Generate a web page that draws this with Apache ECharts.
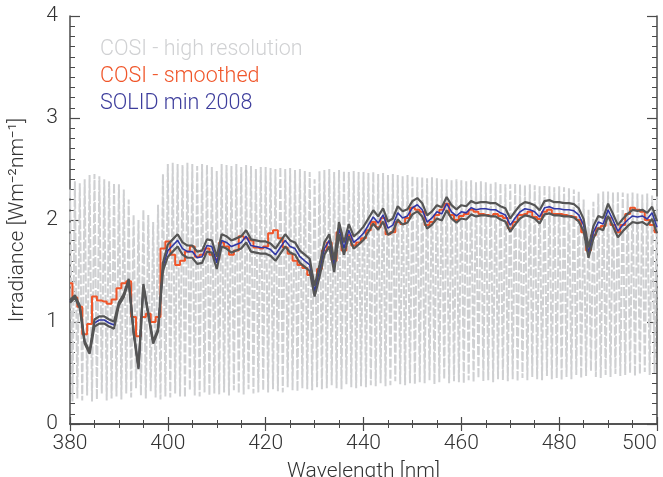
<!DOCTYPE html>
<html>
<head>
<meta charset="utf-8">
<script src="https://cdn.jsdelivr.net/npm/echarts@6/dist/echarts.min.js"></script>
<style>
  html, body { margin: 0; padding: 0; background: #fff; }
  #root { width: 663px; height: 477px; }
</style>
</head>
<body>
<div id="root"></div>
<script>
// wavelength grid start (nm), 1 nm steps
const wlStart = 380;

// COSI high resolution: peak values at each nm and trough values half a nm later
const hiresPeak = [
  2.30, 2.38, 2.36, 2.40, 2.44, 2.45, 2.43, 2.40, 2.38, 2.36,
  2.35, 2.30, 2.20, 2.05, 2.00, 2.10, 2.05, 1.98, 2.15, 2.45,
  2.55, 2.56, 2.55, 2.54, 2.56, 2.55, 2.53, 2.55, 2.54, 2.52,
  2.48, 2.55, 2.54, 2.53, 2.55, 2.52, 2.54, 2.53, 2.50, 2.52,
  2.52, 2.51, 2.50, 2.52, 2.50, 2.51, 2.49, 2.50, 2.48, 2.47,
  2.40, 2.48, 2.49, 2.50, 2.47, 2.49, 2.48, 2.47, 2.48, 2.47,
  2.47, 2.46, 2.47, 2.45, 2.46, 2.44, 2.45, 2.44, 2.43, 2.44,
  2.43, 2.42, 2.42, 2.41, 2.42, 2.41, 2.40, 2.40, 2.39, 2.40,
  2.39, 2.38, 2.39, 2.37, 2.38, 2.37, 2.36, 2.37, 2.36, 2.35,
  2.35, 2.36, 2.35, 2.34, 2.35, 2.34, 2.33, 2.34, 2.33, 2.32,
  2.33, 2.32, 2.31, 2.30, 2.28, 2.20, 2.10, 2.18, 2.26, 2.28,
  2.28, 2.27, 2.28, 2.27, 2.26, 2.27, 2.26, 2.25, 2.26, 2.24, 2.23
];
const hiresTrough = [
  0.22, 0.25, 0.23, 0.28, 0.22, 0.24, 0.30, 0.23, 0.25, 0.27,
  0.24, 0.30, 0.26, 0.35, 0.28, 0.25, 0.32, 0.26, 0.24, 0.27,
  0.26, 0.30, 0.27, 0.26, 0.33, 0.28, 0.27, 0.31, 0.28, 0.30,
  0.29, 0.31, 0.28, 0.33, 0.30, 0.29, 0.34, 0.30, 0.31, 0.33,
  0.31, 0.34, 0.32, 0.31, 0.36, 0.33, 0.32, 0.35, 0.34, 0.33,
  0.36, 0.34, 0.35, 0.38, 0.35, 0.34, 0.39, 0.36, 0.35, 0.37,
  0.36, 0.38, 0.37, 0.40, 0.37, 0.38, 0.42, 0.39, 0.38, 0.40,
  0.39, 0.41, 0.40, 0.43, 0.39, 0.41, 0.44, 0.40, 0.42, 0.41,
  0.40, 0.43, 0.41, 0.45, 0.42, 0.43, 0.41, 0.44, 0.43, 0.42,
  0.44, 0.42, 0.45, 0.43, 0.46, 0.44, 0.43, 0.47, 0.44, 0.45,
  0.43, 0.46, 0.44, 0.48, 0.45, 0.47, 0.52, 0.46, 0.45, 0.48,
  0.46, 0.49, 0.47, 0.48, 0.50, 0.47, 0.49, 0.51, 0.48, 0.50, 0.52
];

// COSI smoothed, 380..500 nm
const cosiSmooth = [
  1.38, 1.24, 1.15, 0.88, 0.98, 1.25, 1.21, 1.20, 1.18, 1.22,
  1.33, 1.38, 1.40, 1.05, 0.86, 1.05, 1.08, 1.00, 1.05, 1.72,
  1.79, 1.66, 1.56, 1.60, 1.69, 1.74, 1.64, 1.66, 1.72, 1.66,
  1.62, 1.78, 1.74, 1.66, 1.70, 1.84, 1.82, 1.80, 1.73, 1.72,
  1.74, 1.87, 1.90, 1.82, 1.73, 1.67, 1.60, 1.56, 1.53, 1.46,
  1.38, 1.52, 1.70, 1.78, 1.60, 1.88, 1.70, 1.85, 1.75, 1.78,
  1.82, 1.90, 1.98, 1.93, 2.02, 1.86, 1.88, 1.98, 1.96, 2.02,
  2.12, 2.10, 2.08, 1.95, 1.98, 2.05, 2.10, 2.16, 2.05, 2.00,
  2.04, 2.06, 2.10, 2.08, 2.06, 2.05, 2.04, 2.06, 2.04, 2.02,
  1.92, 1.98, 2.05, 2.06, 2.08, 2.03, 2.01, 2.08, 2.10, 2.06,
  2.06, 2.05, 2.04, 2.03, 2.00, 1.88, 1.70, 1.85, 1.92, 1.94,
  2.02, 1.95, 1.88, 1.95, 2.06, 2.12, 2.10, 2.08, 2.00, 1.95, 1.88
];

// SOLID min 2008, 380..500 nm
const solid = [
  1.20, 1.25, 1.15, 0.80, 0.70, 0.99, 1.02, 1.02, 0.99, 0.97,
  1.18, 1.26, 1.41, 0.90, 0.55, 1.36, 1.08, 0.80, 0.92, 1.54,
  1.70, 1.75, 1.80, 1.72, 1.69, 1.69, 1.63, 1.64, 1.75, 1.74,
  1.58, 1.80, 1.78, 1.74, 1.76, 1.78, 1.84, 1.75, 1.74, 1.73,
  1.73, 1.71, 1.66, 1.73, 1.80, 1.74, 1.72, 1.64, 1.60, 1.56,
  1.30, 1.50, 1.72, 1.80, 1.55, 1.92, 1.72, 1.90, 1.78, 1.82,
  1.87, 1.95, 2.03, 1.97, 2.05, 1.92, 1.95, 2.07, 2.02, 2.04,
  2.12, 2.15, 2.10, 1.98, 2.02, 2.08, 2.06, 2.16, 2.08, 2.04,
  2.08, 2.07, 2.12, 2.10, 2.11, 2.11, 2.10, 2.10, 2.07, 2.05,
  1.95, 2.02, 2.08, 2.11, 2.10, 2.08, 2.03, 2.12, 2.13, 2.11,
  2.11, 2.10, 2.10, 2.09, 2.05, 1.95, 1.68, 1.88, 1.98, 1.96,
  2.10, 2.00, 1.89, 1.95, 2.00, 2.04, 2.03, 2.04, 2.01, 2.07, 1.93
];

// SOLID uncertainty (half width of the dark grey band)
const solidErr = [
  0.012, 0.012, 0.012, 0.012, 0.012, 0.035, 0.035, 0.035, 0.035, 0.035,
  0.015, 0.015, 0.012, 0.012, 0.012, 0.012, 0.012, 0.012, 0.012, 0.040,
  0.060, 0.060, 0.060, 0.060, 0.060, 0.060, 0.060, 0.060, 0.060, 0.060,
  0.060, 0.060, 0.060, 0.060, 0.060, 0.060, 0.060, 0.060, 0.060, 0.060,
  0.060, 0.060, 0.060, 0.060, 0.060, 0.060, 0.060, 0.060, 0.060, 0.060,
  0.050, 0.060, 0.060, 0.060, 0.060, 0.060, 0.060, 0.060, 0.060, 0.060,
  0.065, 0.065, 0.065, 0.065, 0.065, 0.065, 0.065, 0.065, 0.065, 0.065,
  0.065, 0.065, 0.065, 0.065, 0.065, 0.065, 0.065, 0.065, 0.065, 0.065,
  0.065, 0.065, 0.065, 0.065, 0.065, 0.065, 0.065, 0.065, 0.065, 0.065,
  0.065, 0.065, 0.065, 0.065, 0.065, 0.065, 0.065, 0.065, 0.065, 0.065,
  0.065, 0.065, 0.065, 0.065, 0.065, 0.060, 0.050, 0.060, 0.060, 0.060,
  0.060, 0.060, 0.060, 0.060, 0.060, 0.060, 0.060, 0.060, 0.060, 0.060, 0.060
];

const FONT = 'Roboto';
const axisColor = '#4a4a4a';

let hires = [];
for (let i = 0; i < hiresPeak.length; i++) {
  hires.push([wlStart + i, hiresPeak[i]]);
  hires.push([wlStart + i + 0.5, hiresTrough[i]]);
}
const pairs = arr => arr.map((v, i) => [wlStart + i, v]);
const solidHi = solid.map((v, i) => [wlStart + i, v + solidErr[i]]);
const solidLo = solid.map((v, i) => [wlStart + i, v - solidErr[i]]);

let myChart = echarts.init(document.getElementById('root'));

const xBase = {
  type: 'value', min: 380, max: 500, interval: 20,
  axisLine: { lineStyle: { color: axisColor, width: 1.5 } },
  axisTick: { inside: true, length: 7, lineStyle: { color: axisColor, width: 1.2 } },
  minorTick: { show: true, splitNumber: 4, length: 4, lineStyle: { color: axisColor, width: 1 } },
  splitLine: { show: false }
};
const yBase = {
  type: 'value', min: 0, max: 4, interval: 1,
  axisLine: { show: true, lineStyle: { color: axisColor, width: 1.5 } },
  axisTick: { show: true, inside: true, length: 10, lineStyle: { color: axisColor, width: 1.2 } },
  minorTick: { show: true, splitNumber: 10, length: 5, lineStyle: { color: axisColor, width: 1 } },
  splitLine: { show: false }
};

let option = {
  animation: false,
  backgroundColor: '#fff',
  grid: { left: 70, right: 6, top: 16, bottom: 53, outerBoundsMode: 'none', containLabel: false },
  legend: {
    orient: 'vertical',
    left: 90,
    top: 34,
    itemGap: 5,
    itemWidth: 0,
    itemHeight: 0,
    selectedMode: false,
    textStyle: { fontFamily: FONT, fontWeight: 300, fontSize: 21.5 },
    data: [
      { name: 'COSI - high resolution', icon: 'none', textStyle: { color: '#d0d1d3' } },
      { name: 'COSI - smoothed', icon: 'none', textStyle: { color: '#f0562a' } },
      { name: 'SOLID min 2008', icon: 'none', textStyle: { color: '#3d3d9c' } }
    ]
  },
  xAxis: [
    Object.assign({}, xBase, {
      position: 'bottom',
      name: 'Wavelength [nm]',
      nameLocation: 'middle',
      nameGap: 37,
      nameTextStyle: { fontFamily: FONT, fontWeight: 300, fontSize: 21, color: '#333' },
      axisLabel: {
        fontFamily: FONT, fontWeight: 300, fontSize: 21, color: '#333', margin: 9,
        alignMaxLabel: 'right'
      }
    }),
    Object.assign({}, xBase, { position: 'top', axisLabel: { show: false } })
  ],
  yAxis: [
    Object.assign({}, yBase, {
      position: 'left',
      name: 'Irradiance [Wm\u207B\u00B2nm\u207B\u00B9]',
      nameLocation: 'middle',
      nameGap: 42,
      nameTextStyle: { fontFamily: FONT, fontWeight: 300, fontSize: 21, color: '#333' },
      axisLabel: { fontFamily: FONT, fontWeight: 300, fontSize: 21, color: '#333', margin: 12 }
    }),
    Object.assign({}, yBase, { position: 'right', axisLabel: { show: false } })
  ],
  series: [
    {
      name: 'COSI - high resolution',
      type: 'line',
      data: hires,
      showSymbol: false,
      lineStyle: { color: '#cfd0d2', width: 2, type: [9, 2] },
      itemStyle: { color: '#d0d1d3' },
      z: 1
    },
    {
      name: 'COSI - smoothed',
      type: 'line',
      step: 'middle',
      data: pairs(cosiSmooth),
      showSymbol: false,
      lineStyle: { color: '#f0562a', width: 2 },
      itemStyle: { color: '#f0562a' },
      z: 2
    },
    {
      name: 'SOLID min 2008',
      type: 'line',
      data: pairs(solid),
      showSymbol: false,
      lineStyle: { color: '#3037a6', width: 1.6 },
      itemStyle: { color: '#3d3d9c' },
      z: 3
    },
    {
      name: 'SOLID upper',
      type: 'line',
      data: solidHi,
      showSymbol: false,
      lineStyle: { color: '#555555', width: 2.2 },
      z: 4
    },
    {
      name: 'SOLID lower',
      type: 'line',
      data: solidLo,
      showSymbol: false,
      lineStyle: { color: '#555555', width: 2.2 },
      z: 4
    }
  ]
};

myChart.setOption(option);
</script>
</body>
</html>
